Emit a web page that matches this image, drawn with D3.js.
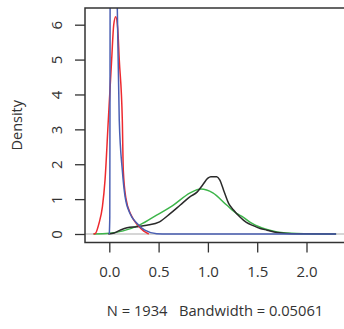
<!DOCTYPE html>
<html><head><meta charset="utf-8">
<script src="https://cdn.jsdelivr.net/npm/d3@7"></script>
<style>
html,body{margin:0;padding:0;background:#fff;}
text{font-family:"Open Sans",sans-serif;fill:#333;}
</style></head>
<body><svg id="c" width="344" height="329"></svg>
<script>
// Data
const xTicks = [0.0, 0.5, 1.0, 1.5, 2.0];
const yTicks = [0, 1, 2, 3, 4, 5, 6];
const xTickLabels = ["0.0", "0.5", "1.0", "1.5", "2.0"];
const yTickLabels = ["0", "1", "2", "3", "4", "5", "6"];
const yLabel = "Density";
const subLabel = "N = 1934   Bandwidth = 0.05061";

const blackX = [-0.01,0.05,0.11,0.18,0.28,0.38,0.51,0.62,0.72,0.82,0.89,0.95,1.0,1.03,1.09,1.12,1.16,1.21,1.26,1.32,1.39,1.46,1.53,1.6,1.7,1.85,2.3];
const blackY = [0,0.03,0.11,0.18,0.21,0.25,0.35,0.59,0.83,1.07,1.2,1.42,1.6,1.64,1.64,1.55,1.25,0.88,0.69,0.5,0.33,0.24,0.16,0.11,0.04,0.01,0];

const greenX = [-0.16,0.0,0.14,0.31,0.48,0.65,0.82,0.93,1.05,1.19,1.29,1.36,1.43,1.55,1.7,1.9,2.3];
const greenY = [0,0.02,0.09,0.26,0.54,0.83,1.18,1.29,1.18,0.83,0.59,0.48,0.33,0.17,0.06,0.015,0];

const redX = [-0.16,-0.14,-0.105,-0.07,-0.043,-0.01,0.024,0.045,0.065,0.085,0.101,0.132,0.142,0.17,0.22,0.29,0.35,0.4];
const redY = [0,0.02,0.3,0.78,1.56,3.27,5.0,6.0,6.23,5.9,5.0,3.27,1.83,1.0,0.55,0.25,0.08,0];

const blueX = [0.0,0.005,0.008,0.01,0.03,0.06,0.081,0.101,0.132,0.16,0.21,0.28,0.36,0.48,0.6,2.3];
const blueY = [0,0.5,6,10,12,9,6.5,3.27,1.83,1.07,0.59,0.31,0.11,0.01,0,0];

const svg = d3.select("#c");
const x = d3.scaleLinear().domain([0, 2]).range([109.3, 306.5]);
const y = d3.scaleLinear().domain([0, 6]).range([234, 24.7]);
const box = {l:85, r:352, t:8, b:242.5};

svg.append("defs").append("clipPath").attr("id","clip")
  .append("rect").attr("x",box.l).attr("y",box.t).attr("width",box.r-box.l).attr("height",box.b-box.t);

const g = svg.append("g").attr("clip-path","url(#clip)");
// zero line
g.append("line").attr("x1",box.l).attr("x2",box.r).attr("y1",y(0)).attr("y2",y(0))
  .attr("stroke","#c8c8c8").attr("stroke-width",1.3);

const line = d3.line().x(d=>x(d[0])).y(d=>y(d[1])).curve(d3.curveMonotoneX);
function draw(xs, ys, col){
  g.append("path").datum(xs.map((v,i)=>[v, ys[i]]))
   .attr("d", line).attr("fill","none").attr("stroke",col).attr("stroke-width",1.5);
}
draw(greenX, greenY, "#3db54a");
draw(blackX, blackY, "#2a2a2a");
draw(redX, redY, "#ee2a2f");
draw(blueX, blueY, "#4a5fb3");

// box
svg.append("rect").attr("x",box.l).attr("y",box.t).attr("width",box.r-box.l).attr("height",box.b-box.t)
  .attr("fill","none").attr("stroke","#333").attr("stroke-width",1.5);

// axes
const ax = svg.append("g").attr("transform",`translate(0,${box.b})`)
  .call(d3.axisBottom(x).tickValues(xTicks).tickFormat((d,i)=>xTickLabels[i]).tickSize(10).tickPadding(14));
ax.select(".domain").remove();
ax.selectAll("line").attr("stroke","#333").attr("stroke-width",1.3);
ax.selectAll("text").style("font-size","15px").attr("fill","#333");

const ay = svg.append("g").attr("transform",`translate(${box.l},0)`)
  .call(d3.axisLeft(y).tickValues(yTicks).tickFormat((d,i)=>yTickLabels[i]).tickSize(10));
ay.select(".domain").remove();
ay.selectAll("line").attr("stroke","#333").attr("stroke-width",1.3);
ay.selectAll("text").attr("x",null).attr("dy",null).attr("text-anchor","middle")
  .attr("transform","translate(-28,0) rotate(-90)").attr("dy","0.36em")
  .style("font-size","15px").attr("fill","#333");

svg.append("text").attr("transform",`translate(17,${(box.t+box.b)/2}) rotate(-90)`)
  .attr("text-anchor","middle").attr("dy","0.36em").style("font-size","14.5px").text(yLabel);

svg.append("text").attr("x",215).attr("y",311).attr("dy","0.36em").attr("text-anchor","middle")
  .style("font-size","14.7px").style("white-space","pre").attr("xml:space","preserve").text(subLabel);
</script></body></html>
